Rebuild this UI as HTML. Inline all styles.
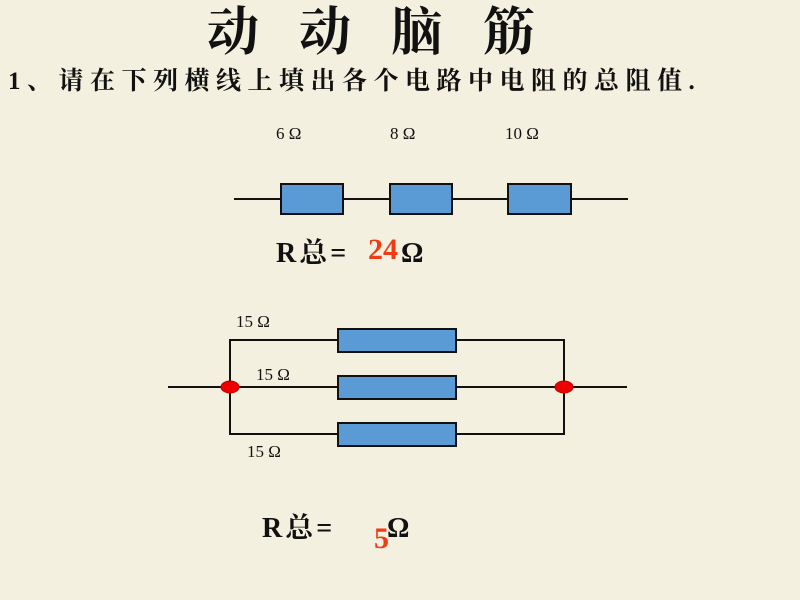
<!DOCTYPE html>
<html><head><meta charset="utf-8"><style>
html,body{margin:0;padding:0;}
body{width:800px;height:600px;background:#f4f0df;overflow:hidden;}
svg{display:block}
</style></head><body>
<svg width="800" height="600" xmlns="http://www.w3.org/2000/svg">
<rect width="800" height="600" fill="#f4f0df"/>
<text x="207" y="50" font-family="'Noto Serif CJK SC','Noto Sans CJK SC',serif" font-size="52" font-weight="bold" fill="#111" letter-spacing="40">动动脑筋</text>
<text x="8" y="89" font-family="'Liberation Serif','Noto Serif CJK SC',serif" font-size="25" font-weight="bold" fill="#111" letter-spacing="6.5">1、请在下列横线上填出各个电路中电阻的总阻值.</text>

<g font-family="'Liberation Serif',serif" font-size="17" fill="#111">
<text x="276" y="139">6 Ω</text>
<text x="390" y="139">8 Ω</text>
<text x="505" y="139">10 Ω</text>
<text x="236" y="327">15 Ω</text>
<text x="256" y="380">15 Ω</text>
<text x="247" y="457">15 Ω</text>
</g>

<g stroke="#111" stroke-width="2" fill="none">
<line x1="234" y1="199" x2="628" y2="199"/>
<line x1="168" y1="387" x2="627" y2="387"/>
<polyline points="338,340 230,340 230,434 338,434"/>
<polyline points="456,340 564,340 564,434 456,434"/>
</g>
<g stroke="#111" stroke-width="2" fill="#5b9bd5">
<rect x="281" y="184" width="62" height="30"/>
<rect x="390" y="184" width="62" height="30"/>
<rect x="508" y="184" width="63" height="30"/>
<rect x="338" y="329" width="118" height="23"/>
<rect x="338" y="376" width="118" height="23"/>
<rect x="338" y="423" width="118" height="23"/>
</g>
<ellipse cx="230" cy="387" rx="9" ry="6" fill="#ee0000" stroke="#b00" stroke-width="1"/>
<ellipse cx="564" cy="387" rx="9" ry="6" fill="#ee0000" stroke="#b00" stroke-width="1"/>

<g font-family="'Liberation Serif','Noto Serif CJK SC',serif" font-size="28" font-weight="bold" fill="#111">
<text x="276" y="262" letter-spacing="3">R总=</text>
<text x="401" y="262">Ω</text>
<text x="262" y="537" letter-spacing="3">R总=</text>
<text x="387" y="537">Ω</text>
</g>
<g font-family="'Liberation Serif',serif" font-size="30" font-weight="bold" fill="#f03c14">
<text x="368" y="259">24</text>
<text x="374" y="548">5</text>
</g>
</svg>
</body></html>
